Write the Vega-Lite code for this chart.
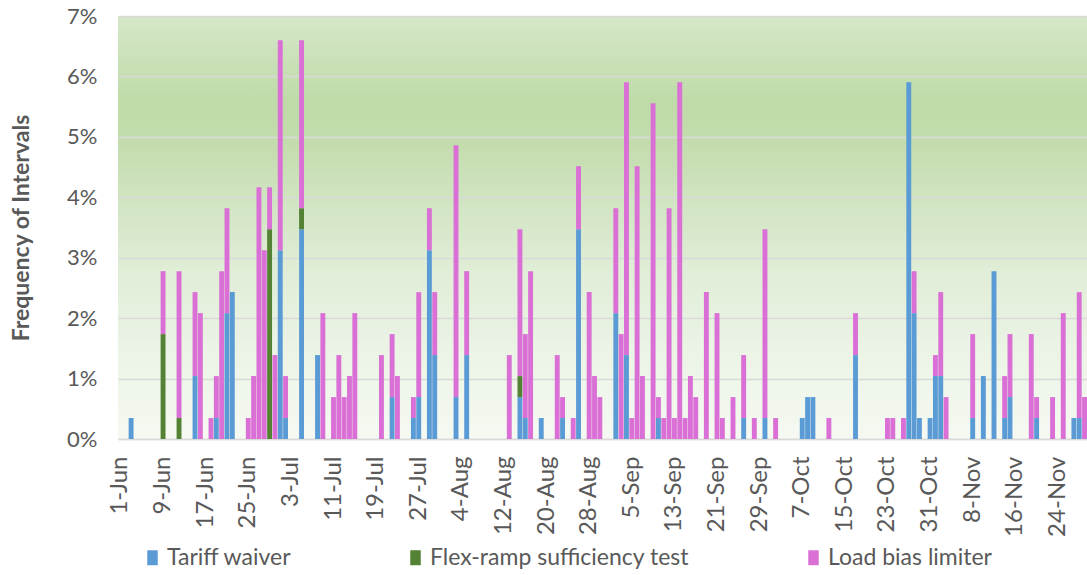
{
  "$schema": "https://vega.github.io/schema/vega-lite/v6.json",
  "autosize": {"type": "none"},
  "padding": {"left": 118, "top": 16, "right": 0, "bottom": 136},
  "width": 969,
  "height": 423,
  "background": "#ffffff",
  "view": {
    "stroke": null,
    "fill": {
      "gradient": "linear", "x1": 0, "y1": 0, "x2": 0, "y2": 1,
      "stops": [
        {"offset": 0, "color": "#d5e7c9"},
        {"offset": 0.2, "color": "#bfdba8"},
        {"offset": 0.3, "color": "#c3dcad"},
        {"offset": 0.45, "color": "#d2e5c4"},
        {"offset": 0.6, "color": "#e0edd7"},
        {"offset": 0.8, "color": "#ecf4e6"},
        {"offset": 1, "color": "#f5f9f2"}
      ]
    }
  },
  "config": {
    "font": "Lato",
    "axis": {"labelColor": "#595959", "titleColor": "#595959", "gridColor": "#d9d9d9", "gridWidth": 1.5, "domainColor": "#d9d9d9", "domainWidth": 1.5, "ticks": false},
    "legend": {"labelColor": "#595959"}
  },
  "data": {
    "values": [
      {"date": "3-Jun", "series": "Tariff waiver", "pct": 0.347},
      {"date": "9-Jun", "series": "Flex-ramp sufficiency test", "pct": 1.736},
      {"date": "9-Jun", "series": "Load bias limiter", "pct": 1.042},
      {"date": "12-Jun", "series": "Flex-ramp sufficiency test", "pct": 0.347},
      {"date": "12-Jun", "series": "Load bias limiter", "pct": 2.431},
      {"date": "15-Jun", "series": "Tariff waiver", "pct": 1.042},
      {"date": "15-Jun", "series": "Load bias limiter", "pct": 1.389},
      {"date": "16-Jun", "series": "Load bias limiter", "pct": 2.083},
      {"date": "18-Jun", "series": "Load bias limiter", "pct": 0.347},
      {"date": "19-Jun", "series": "Tariff waiver", "pct": 0.347},
      {"date": "19-Jun", "series": "Load bias limiter", "pct": 0.694},
      {"date": "20-Jun", "series": "Load bias limiter", "pct": 2.778},
      {"date": "21-Jun", "series": "Tariff waiver", "pct": 2.083},
      {"date": "21-Jun", "series": "Load bias limiter", "pct": 1.736},
      {"date": "22-Jun", "series": "Tariff waiver", "pct": 2.431},
      {"date": "25-Jun", "series": "Load bias limiter", "pct": 0.347},
      {"date": "26-Jun", "series": "Load bias limiter", "pct": 1.042},
      {"date": "27-Jun", "series": "Load bias limiter", "pct": 4.167},
      {"date": "28-Jun", "series": "Load bias limiter", "pct": 3.125},
      {"date": "29-Jun", "series": "Flex-ramp sufficiency test", "pct": 3.472},
      {"date": "29-Jun", "series": "Load bias limiter", "pct": 0.694},
      {"date": "30-Jun", "series": "Load bias limiter", "pct": 1.389},
      {"date": "1-Jul", "series": "Tariff waiver", "pct": 3.125},
      {"date": "1-Jul", "series": "Load bias limiter", "pct": 3.472},
      {"date": "2-Jul", "series": "Tariff waiver", "pct": 0.347},
      {"date": "2-Jul", "series": "Load bias limiter", "pct": 0.694},
      {"date": "5-Jul", "series": "Tariff waiver", "pct": 3.472},
      {"date": "5-Jul", "series": "Flex-ramp sufficiency test", "pct": 0.347},
      {"date": "5-Jul", "series": "Load bias limiter", "pct": 2.778},
      {"date": "8-Jul", "series": "Tariff waiver", "pct": 1.389},
      {"date": "9-Jul", "series": "Load bias limiter", "pct": 2.083},
      {"date": "11-Jul", "series": "Load bias limiter", "pct": 0.694},
      {"date": "12-Jul", "series": "Load bias limiter", "pct": 1.389},
      {"date": "13-Jul", "series": "Load bias limiter", "pct": 0.694},
      {"date": "14-Jul", "series": "Load bias limiter", "pct": 1.042},
      {"date": "15-Jul", "series": "Load bias limiter", "pct": 2.083},
      {"date": "20-Jul", "series": "Load bias limiter", "pct": 1.389},
      {"date": "22-Jul", "series": "Tariff waiver", "pct": 0.694},
      {"date": "22-Jul", "series": "Load bias limiter", "pct": 1.042},
      {"date": "23-Jul", "series": "Load bias limiter", "pct": 1.042},
      {"date": "26-Jul", "series": "Tariff waiver", "pct": 0.347},
      {"date": "26-Jul", "series": "Load bias limiter", "pct": 0.347},
      {"date": "27-Jul", "series": "Tariff waiver", "pct": 0.694},
      {"date": "27-Jul", "series": "Load bias limiter", "pct": 1.736},
      {"date": "29-Jul", "series": "Tariff waiver", "pct": 3.125},
      {"date": "29-Jul", "series": "Load bias limiter", "pct": 0.694},
      {"date": "30-Jul", "series": "Tariff waiver", "pct": 1.389},
      {"date": "30-Jul", "series": "Load bias limiter", "pct": 1.042},
      {"date": "3-Aug", "series": "Tariff waiver", "pct": 0.694},
      {"date": "3-Aug", "series": "Load bias limiter", "pct": 4.167},
      {"date": "5-Aug", "series": "Tariff waiver", "pct": 1.389},
      {"date": "5-Aug", "series": "Load bias limiter", "pct": 1.389},
      {"date": "13-Aug", "series": "Load bias limiter", "pct": 1.389},
      {"date": "15-Aug", "series": "Tariff waiver", "pct": 0.694},
      {"date": "15-Aug", "series": "Flex-ramp sufficiency test", "pct": 0.347},
      {"date": "15-Aug", "series": "Load bias limiter", "pct": 2.431},
      {"date": "16-Aug", "series": "Tariff waiver", "pct": 0.347},
      {"date": "16-Aug", "series": "Load bias limiter", "pct": 1.389},
      {"date": "17-Aug", "series": "Load bias limiter", "pct": 2.778},
      {"date": "19-Aug", "series": "Tariff waiver", "pct": 0.347},
      {"date": "22-Aug", "series": "Load bias limiter", "pct": 1.389},
      {"date": "23-Aug", "series": "Tariff waiver", "pct": 0.347},
      {"date": "23-Aug", "series": "Load bias limiter", "pct": 0.347},
      {"date": "25-Aug", "series": "Load bias limiter", "pct": 0.347},
      {"date": "26-Aug", "series": "Tariff waiver", "pct": 3.472},
      {"date": "26-Aug", "series": "Load bias limiter", "pct": 1.042},
      {"date": "28-Aug", "series": "Load bias limiter", "pct": 2.431},
      {"date": "29-Aug", "series": "Load bias limiter", "pct": 1.042},
      {"date": "30-Aug", "series": "Load bias limiter", "pct": 0.694},
      {"date": "2-Sep", "series": "Tariff waiver", "pct": 2.083},
      {"date": "2-Sep", "series": "Load bias limiter", "pct": 1.736},
      {"date": "3-Sep", "series": "Load bias limiter", "pct": 1.736},
      {"date": "4-Sep", "series": "Tariff waiver", "pct": 1.389},
      {"date": "4-Sep", "series": "Load bias limiter", "pct": 4.514},
      {"date": "5-Sep", "series": "Load bias limiter", "pct": 0.347},
      {"date": "6-Sep", "series": "Load bias limiter", "pct": 4.514},
      {"date": "7-Sep", "series": "Load bias limiter", "pct": 1.042},
      {"date": "9-Sep", "series": "Load bias limiter", "pct": 5.556},
      {"date": "10-Sep", "series": "Tariff waiver", "pct": 0.347},
      {"date": "10-Sep", "series": "Load bias limiter", "pct": 0.347},
      {"date": "11-Sep", "series": "Load bias limiter", "pct": 0.347},
      {"date": "12-Sep", "series": "Load bias limiter", "pct": 3.819},
      {"date": "13-Sep", "series": "Load bias limiter", "pct": 0.347},
      {"date": "14-Sep", "series": "Load bias limiter", "pct": 5.903},
      {"date": "15-Sep", "series": "Load bias limiter", "pct": 0.347},
      {"date": "16-Sep", "series": "Load bias limiter", "pct": 1.042},
      {"date": "17-Sep", "series": "Load bias limiter", "pct": 0.694},
      {"date": "19-Sep", "series": "Load bias limiter", "pct": 2.431},
      {"date": "21-Sep", "series": "Load bias limiter", "pct": 2.083},
      {"date": "22-Sep", "series": "Load bias limiter", "pct": 0.347},
      {"date": "24-Sep", "series": "Load bias limiter", "pct": 0.694},
      {"date": "26-Sep", "series": "Tariff waiver", "pct": 0.347},
      {"date": "26-Sep", "series": "Load bias limiter", "pct": 1.042},
      {"date": "28-Sep", "series": "Load bias limiter", "pct": 0.347},
      {"date": "30-Sep", "series": "Tariff waiver", "pct": 0.347},
      {"date": "30-Sep", "series": "Load bias limiter", "pct": 3.125},
      {"date": "2-Oct", "series": "Load bias limiter", "pct": 0.347},
      {"date": "7-Oct", "series": "Tariff waiver", "pct": 0.347},
      {"date": "8-Oct", "series": "Tariff waiver", "pct": 0.694},
      {"date": "9-Oct", "series": "Tariff waiver", "pct": 0.694},
      {"date": "12-Oct", "series": "Load bias limiter", "pct": 0.347},
      {"date": "17-Oct", "series": "Tariff waiver", "pct": 1.389},
      {"date": "17-Oct", "series": "Load bias limiter", "pct": 0.694},
      {"date": "23-Oct", "series": "Load bias limiter", "pct": 0.347},
      {"date": "24-Oct", "series": "Load bias limiter", "pct": 0.347},
      {"date": "26-Oct", "series": "Load bias limiter", "pct": 0.347},
      {"date": "27-Oct", "series": "Tariff waiver", "pct": 5.903},
      {"date": "28-Oct", "series": "Tariff waiver", "pct": 2.083},
      {"date": "28-Oct", "series": "Load bias limiter", "pct": 0.694},
      {"date": "29-Oct", "series": "Tariff waiver", "pct": 0.347},
      {"date": "31-Oct", "series": "Tariff waiver", "pct": 0.347},
      {"date": "1-Nov", "series": "Tariff waiver", "pct": 1.042},
      {"date": "1-Nov", "series": "Load bias limiter", "pct": 0.347},
      {"date": "2-Nov", "series": "Tariff waiver", "pct": 1.042},
      {"date": "2-Nov", "series": "Load bias limiter", "pct": 1.389},
      {"date": "3-Nov", "series": "Load bias limiter", "pct": 0.694},
      {"date": "8-Nov", "series": "Tariff waiver", "pct": 0.347},
      {"date": "8-Nov", "series": "Load bias limiter", "pct": 1.389},
      {"date": "10-Nov", "series": "Tariff waiver", "pct": 1.042},
      {"date": "12-Nov", "series": "Tariff waiver", "pct": 2.778},
      {"date": "14-Nov", "series": "Tariff waiver", "pct": 0.347},
      {"date": "14-Nov", "series": "Load bias limiter", "pct": 0.694},
      {"date": "15-Nov", "series": "Tariff waiver", "pct": 0.694},
      {"date": "15-Nov", "series": "Load bias limiter", "pct": 1.042},
      {"date": "19-Nov", "series": "Load bias limiter", "pct": 1.736},
      {"date": "20-Nov", "series": "Tariff waiver", "pct": 0.347},
      {"date": "20-Nov", "series": "Load bias limiter", "pct": 0.347},
      {"date": "23-Nov", "series": "Load bias limiter", "pct": 0.694},
      {"date": "25-Nov", "series": "Load bias limiter", "pct": 2.083},
      {"date": "27-Nov", "series": "Tariff waiver", "pct": 0.347},
      {"date": "28-Nov", "series": "Tariff waiver", "pct": 0.347},
      {"date": "28-Nov", "series": "Load bias limiter", "pct": 2.083},
      {"date": "29-Nov", "series": "Load bias limiter", "pct": 0.694}
    ]
  },
  "transform": [
    {"calculate": "indexof(['Tariff waiver','Flex-ramp sufficiency test','Load bias limiter'], datum.series)", "as": "stackOrder"}
  ],
  "mark": {"type": "bar"},
  "encoding": {
    "x": {
      "field": "date", "type": "ordinal",
      "scale": {
        "paddingInner": 0.08, "paddingOuter": 0,
        "domain": ["1-Jun","2-Jun","3-Jun","4-Jun","5-Jun","6-Jun","7-Jun","8-Jun","9-Jun","10-Jun","11-Jun","12-Jun","13-Jun","14-Jun","15-Jun","16-Jun","17-Jun","18-Jun","19-Jun","20-Jun","21-Jun","22-Jun","23-Jun","24-Jun","25-Jun","26-Jun","27-Jun","28-Jun","29-Jun","30-Jun",
          "1-Jul","2-Jul","3-Jul","4-Jul","5-Jul","6-Jul","7-Jul","8-Jul","9-Jul","10-Jul","11-Jul","12-Jul","13-Jul","14-Jul","15-Jul","16-Jul","17-Jul","18-Jul","19-Jul","20-Jul","21-Jul","22-Jul","23-Jul","24-Jul","25-Jul","26-Jul","27-Jul","28-Jul","29-Jul","30-Jul","31-Jul",
          "1-Aug","2-Aug","3-Aug","4-Aug","5-Aug","6-Aug","7-Aug","8-Aug","9-Aug","10-Aug","11-Aug","12-Aug","13-Aug","14-Aug","15-Aug","16-Aug","17-Aug","18-Aug","19-Aug","20-Aug","21-Aug","22-Aug","23-Aug","24-Aug","25-Aug","26-Aug","27-Aug","28-Aug","29-Aug","30-Aug","31-Aug",
          "1-Sep","2-Sep","3-Sep","4-Sep","5-Sep","6-Sep","7-Sep","8-Sep","9-Sep","10-Sep","11-Sep","12-Sep","13-Sep","14-Sep","15-Sep","16-Sep","17-Sep","18-Sep","19-Sep","20-Sep","21-Sep","22-Sep","23-Sep","24-Sep","25-Sep","26-Sep","27-Sep","28-Sep","29-Sep","30-Sep",
          "1-Oct","2-Oct","3-Oct","4-Oct","5-Oct","6-Oct","7-Oct","8-Oct","9-Oct","10-Oct","11-Oct","12-Oct","13-Oct","14-Oct","15-Oct","16-Oct","17-Oct","18-Oct","19-Oct","20-Oct","21-Oct","22-Oct","23-Oct","24-Oct","25-Oct","26-Oct","27-Oct","28-Oct","29-Oct","30-Oct","31-Oct",
          "1-Nov","2-Nov","3-Nov","4-Nov","5-Nov","6-Nov","7-Nov","8-Nov","9-Nov","10-Nov","11-Nov","12-Nov","13-Nov","14-Nov","15-Nov","16-Nov","17-Nov","18-Nov","19-Nov","20-Nov","21-Nov","22-Nov","23-Nov","24-Nov","25-Nov","26-Nov","27-Nov","28-Nov","29-Nov"]
      },
      "axis": {
        "title": null,
        "values": ["1-Jun","9-Jun","17-Jun","25-Jun","3-Jul","11-Jul","19-Jul","27-Jul","4-Aug","12-Aug","20-Aug","28-Aug","5-Sep","13-Sep","21-Sep","29-Sep","7-Oct","15-Oct","23-Oct","31-Oct","8-Nov","16-Nov","24-Nov"],
        "labelAngle": 270,
        "labelFontSize": 24,
        "labelPadding": 17,
        "labelOverlap": false,
        "grid": false
      }
    },
    "y": {
      "field": "pct", "type": "quantitative", "stack": "zero",
      "scale": {"domain": [0, 7], "nice": false},
      "axis": {
        "title": "Frequency of Intervals",
        "titleFontSize": 23,
        "titleFontWeight": "bold",
        "titlePadding": 33,
        "values": [0, 1, 2, 3, 4, 5, 6, 7],
        "labelExpr": "datum.value + '%'",
        "labelFontSize": 22,
        "labelPadding": 21,
        "domain": false,
        "grid": true
      }
    },
    "order": {"field": "stackOrder", "type": "quantitative"},
    "color": {
      "field": "series", "type": "nominal",
      "scale": {
        "domain": ["Tariff waiver", "Flex-ramp sufficiency test", "Load bias limiter"],
        "range": ["#5b9bd5", "#548235", "#da70d6"]
      },
      "legend": {
        "title": null,
        "orient": "none",
        "legendX": 23,
        "legendY": 530,
        "direction": "horizontal",
        "labelFontSize": 23,
        "labelLimit": 400,
        "symbolType": "M-0.7,-1H0.7V1H-0.7Z",
        "symbolSize": 225,
        "symbolStrokeWidth": 0,
        "labelOffset": 3,
        "columnPadding": 112,
        "padding": 0
      }
    }
  }
}
